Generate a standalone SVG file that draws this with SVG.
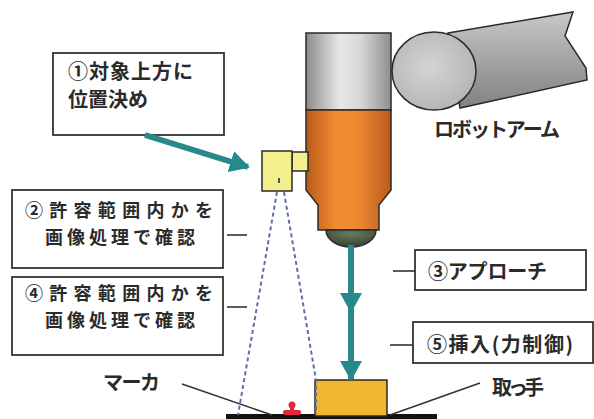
<svg xmlns="http://www.w3.org/2000/svg" width="594" height="419" viewBox="0 0 594 419">
  <defs>
    <style>
      .lbl { font-family: "Noto Sans CJK JP", "Noto Sans", sans-serif; font-size: 20px; font-weight: bold; fill: #2a2a2a; }
      .sm { font-size: 18px; }
      .box { fill: #fff; stroke: #333; stroke-width: 1.8; }
      .tick { stroke: #333; stroke-width: 1.6; fill: none; }
      .outline { stroke: #2a2a2a; stroke-width: 1.5; }
      .teal { stroke: #27898a; stroke-width: 6; fill: none; }
      .view { stroke: #5d6fa6; stroke-width: 2; stroke-dasharray: 4 3; fill: none; }
    </style>
    <linearGradient id="steel" x1="0" y1="0" x2="1" y2="0">
      <stop offset="0" stop-color="#8c8c8c"/>
      <stop offset="0.4" stop-color="#e8e8e8"/>
      <stop offset="0.65" stop-color="#d6d6d6"/>
      <stop offset="1" stop-color="#8e8e8e"/>
    </linearGradient>
    <linearGradient id="copper" x1="0" y1="0" x2="1" y2="0">
      <stop offset="0" stop-color="#b85a1a"/>
      <stop offset="0.35" stop-color="#f28c32"/>
      <stop offset="0.6" stop-color="#ef8a34"/>
      <stop offset="1" stop-color="#b95c1c"/>
    </linearGradient>
    <linearGradient id="armBody" x1="0" y1="0" x2="0" y2="1">
      <stop offset="0" stop-color="#c8c8c8"/>
      <stop offset="0.5" stop-color="#a4a4a4"/>
      <stop offset="1" stop-color="#828282"/>
    </linearGradient>
    <radialGradient id="armEnd" cx="0.45" cy="0.45" r="0.6">
      <stop offset="0" stop-color="#d4d4d4"/>
      <stop offset="1" stop-color="#b4b4b4"/>
    </radialGradient>
    <radialGradient id="tip" cx="0.5" cy="0.2" r="0.8">
      <stop offset="0" stop-color="#6a7a60"/>
      <stop offset="1" stop-color="#334030"/>
    </radialGradient>
    <marker id="ah" viewBox="0 0 20 22" refX="18" refY="11" markerWidth="20" markerHeight="22" markerUnits="userSpaceOnUse" orient="auto">
      <path d="M0,0 L20,11 L0,22 Z" fill="#27898a"/>
    </marker>
  </defs>

  <rect width="594" height="419" fill="#fff"/>

  <!-- robot arm -->
  <g id="robot-arm">
    <path d="M448,33 L573,12 L565,36 L586,68 L587,80 L460,108 Z" fill="url(#armBody)" class="outline"/>
    <ellipse cx="434" cy="71" rx="42" ry="39" fill="url(#armEnd)" class="outline"/>
  </g>

  <!-- tool: grey flange, orange body, tip -->
  <g id="tool">
    <rect x="306" y="33" width="85" height="77" fill="url(#steel)" class="outline"/>
    <path d="M306,110 H391 V190 L379,205 V230 H318 V205 L306,190 Z" fill="url(#copper)" class="outline"/>
    <path d="M326,230 A25,17 0 0 0 376,230 Z" fill="url(#tip)" class="outline"/>
  </g>

  <!-- camera -->
  <g id="camera">
    <rect x="292" y="152" width="16" height="19" fill="#f2ef8c" class="outline"/>
    <rect x="262" y="151" width="30" height="40" fill="#f2ef8c" class="outline"/>
    <rect x="278" y="178" width="2" height="5" fill="#555"/>
  </g>

  <!-- workpiece -->
  <g id="base">
    <rect x="226" y="414" width="211" height="5" fill="#111"/>
  </g>
  <g id="handle">
    <rect x="315" y="380" width="72" height="36" fill="#f1b52f" class="outline"/>
  </g>
  <g id="marker-target">
    <circle cx="292" cy="405" r="3.5" fill="#e0283a"/>
    <rect x="290" y="405" width="4" height="8" fill="#e0283a"/>
    <rect x="283" y="410" width="18" height="5" rx="2" fill="#e0283a"/>
  </g>

  <!-- labels -->
  <g id="step1">
    <rect x="53" y="53" width="171" height="82" class="box"/>
    <text class="lbl" x="68" y="79" textLength="125" lengthAdjust="spacing">①対象上方に</text>
    <text class="lbl" x="68" y="107">位置決め</text>
  </g>
  <g id="step2">
    <rect x="12" y="190" width="211" height="78" class="box"/>
    <text class="lbl sm" x="119" y="217" text-anchor="middle" textLength="188" lengthAdjust="spacing">②許容範囲内かを</text>
    <text class="lbl sm" x="120" y="244" text-anchor="middle" textLength="150" lengthAdjust="spacing">画像処理で確認</text>
  </g>
  <g id="step4">
    <rect x="12" y="277" width="211" height="78" class="box"/>
    <text class="lbl sm" x="119" y="300" text-anchor="middle" textLength="188" lengthAdjust="spacing">④許容範囲内かを</text>
    <text class="lbl sm" x="120" y="327" text-anchor="middle" textLength="150" lengthAdjust="spacing">画像処理で確認</text>
  </g>
  <g id="step3">
    <rect x="415" y="250" width="171" height="40" class="box"/>
    <text class="lbl" x="428" y="279" textLength="119" lengthAdjust="spacing">③アプローチ</text>
  </g>
  <g id="step5">
    <rect x="413" y="322" width="180" height="41" class="box"/>
    <text class="lbl" x="427" y="352" textLength="146" lengthAdjust="spacing">⑤挿入(力制御)</text>
  </g>
  <g id="label-arm">
    <text class="lbl" x="434" y="137" textLength="126" lengthAdjust="spacing">ロボットアーム</text>
  </g>
  <g id="label-marker">
    <text class="lbl" x="103" y="390" textLength="57" lengthAdjust="spacing">マーカ</text>
  </g>
  <g id="label-handle">
    <text class="lbl" x="492" y="395" textLength="52" lengthAdjust="spacing">取っ手</text>
  </g>

  <!-- connectors -->
  <g id="connectors">
    <line class="tick" x1="227" y1="235" x2="247" y2="235"/>
    <line class="tick" x1="227" y1="307" x2="247" y2="307"/>
    <line class="tick" x1="393" y1="271" x2="415" y2="271"/>
    <line class="tick" x1="390" y1="345" x2="413" y2="345"/>
    <line class="tick" x1="182" y1="384" x2="272" y2="415"/>
    <line class="tick" x1="390" y1="415" x2="480" y2="383"/>
    <path class="view" d="M277,192 L238,415"/>
    <path class="view" d="M284,192 L316,380 V414"/>
    <line class="teal" x1="145" y1="135" x2="248" y2="167" marker-end="url(#ah)"/>
    <line class="teal" x1="351" y1="245" x2="351" y2="311" marker-end="url(#ah)"/>
    <line class="teal" x1="351" y1="311" x2="351" y2="379" marker-end="url(#ah)"/>
  </g>
</svg>
